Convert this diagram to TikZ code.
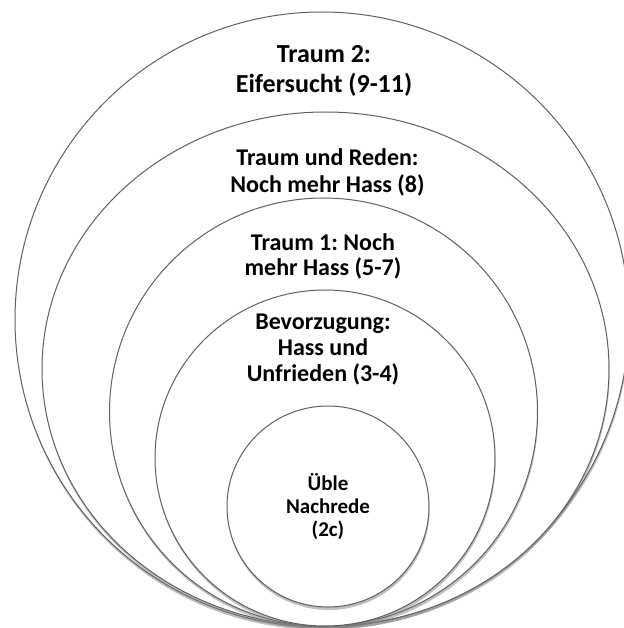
\documentclass[tikz,border=0pt]{standalone}
\usepackage{fontspec}
\setmainfont{Carlito}
\usetikzlibrary{shadows}
\frenchspacing

\begin{document}
\begin{tikzpicture}[x=0.5pt, y=0.5pt,
    ring/.style={fill=white, draw=gray!75!black, line width=0.5pt,
        drop shadow={shadow xshift=0.3pt, shadow yshift=-1.5pt, opacity=0.5}},
    ringtext/.style={font=\bfseries, align=center, inner sep=0pt}]

        % 画布大小
        \useasboundingbox (0,0) rectangle (624,628);

        % 绘制五个圆, 从外到内
        \path[ring] (322,308.5) ellipse (307 and 307.5); % 第一个圆
        \path[ring] (325.5,259) ellipse (283.5 and 257); % 第二个圆
        \path[ring] (323.5,216) ellipse (214 and 214); % 第三个圆
        \path[ring] (325,170) ellipse (170 and 168); % 第四个圆
        \path[ring] (328,121.5) ellipse (101 and 100.5); % 最里面的圆

        % 标签
        \node[ringtext, font=\bfseries\fontsize{13}{15}\selectfont] (traumzwei) at (324,557) {Traum 2:\\Eifersucht (9-11)};
        \node[ringtext, font=\bfseries\fontsize{12}{13.5}\selectfont] (reden) at (327.5,456) {Traum und Reden:\\Noch mehr Hass (8)};
        \node[ringtext, font=\bfseries\fontsize{12}{12.5}\selectfont] (traumeins) at (323,372) {Traum 1: Noch\\mehr Hass (5-7)};
        \node[ringtext, font=\bfseries\fontsize{12}{13}\selectfont] (bevorzugung) at (323,278) {Bevorzugung:\\Hass und\\Unfrieden (3-4)};
        \node[ringtext, font=\bfseries\fontsize{10.5}{11.5}\selectfont] (nachrede) at (328,121) {Üble\\Nachrede\\(2c)};

    \end{tikzpicture}
\end{document}
